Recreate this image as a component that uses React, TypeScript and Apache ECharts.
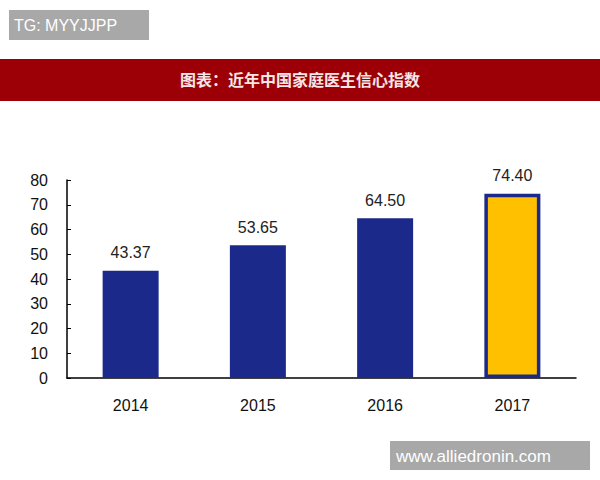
import React, { useEffect, useRef } from "react";
import * as echarts from "echarts";

const categories = ["2014", "2015", "2016", "2017"];
const values = [43.37, 53.65, 64.5, 74.4];
const labelTexts = ["43.37", "53.65", "64.50", "74.40"];
const titleText = "图表：近年中国家庭医生信心指数";

export default function App() {
  const ref = useRef<HTMLDivElement>(null);
  useEffect(() => {
    const chart = echarts.init(ref.current!, null, { renderer: "svg" });
    chart.setOption({
      animation: false,
      backgroundColor: "#ffffff",
      graphic: [
        { type: "rect", shape: { x: 9, y: 10, width: 140, height: 30 }, style: { fill: "#a8a8a8" } },
        { type: "text", x: 14, y: 25, style: { text: "TG: MYYJJPP", fill: "#ffffff", font: "16px 'Liberation Sans', Arial, sans-serif", verticalAlign: "middle" } },
        { type: "rect", shape: { x: 0, y: 59, width: 600, height: 42 }, style: { fill: "#9c0006" } },
        { type: "text", x: 300, y: 79, style: { text: titleText, fill: "#f6e6e6", font: "bold 16px 'Noto Sans CJK SC', sans-serif", align: "center", verticalAlign: "middle" } },
        { type: "rect", shape: { x: 390, y: 441, width: 200, height: 29 }, style: { fill: "#a8a8a8" } },
        { type: "text", x: 396, y: 456, style: { text: "www.alliedronin.com", fill: "#ffffff", font: "17px 'Liberation Sans', Arial, sans-serif", verticalAlign: "middle" } }
      ],
      grid: { left: 67, right: 24, top: 180, bottom: 102 },
      xAxis: {
        type: "category",
        data: categories,
        axisLine: { lineStyle: { color: "#000000", width: 1.5 } },
        axisTick: { inside: true, length: 4, lineStyle: { color: "#000000" } },
        axisLabel: { color: "#111111", fontSize: 16, margin: 19, fontFamily: "'Liberation Sans', Arial, sans-serif" }
      },
      yAxis: {
        type: "value",
        min: 0,
        max: 80,
        interval: 10,
        splitLine: { show: false },
        axisLine: { show: true, lineStyle: { color: "#000000", width: 1.5 } },
        axisTick: { show: true, inside: true, length: 4, lineStyle: { color: "#000000" } },
        axisLabel: { color: "#111111", fontSize: 16, margin: 19, fontFamily: "'Liberation Sans', Arial, sans-serif" }
      },
      series: [
        {
          type: "bar",
          barWidth: 56,
          data: values.map((v, i) =>
            i === values.length - 1
              ? { value: v, itemStyle: { color: "#ffc000", borderColor: "#1b2a8a", borderWidth: 3.5 } }
              : { value: v, itemStyle: { color: "#1b2a8a" } }
          ),
          label: {
            show: true,
            position: "top",
            distance: 10,
            formatter: (p: any) => labelTexts[p.dataIndex],
            color: "#222222",
            fontSize: 16,
            fontFamily: "'Liberation Sans', Arial, sans-serif"
          }
        }
      ]
    });
    return () => chart.dispose();
  }, []);
  return <div ref={ref} style={{ width: 600, height: 480, position: "absolute", left: 0, top: 0 }} />;
}
